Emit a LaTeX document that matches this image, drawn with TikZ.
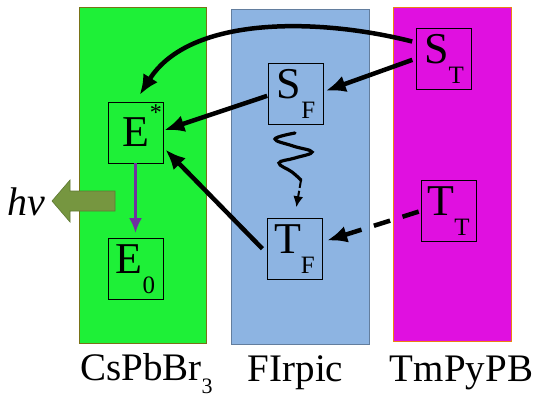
\documentclass[tikz,border=0pt]{standalone}
\usepackage{fontspec}
\setmainfont{Liberation Serif}
\newfontfamily\timesrm{Liberation Serif}
\usetikzlibrary{arrows.meta,calc}

\definecolor{perovgreen}{RGB}{30,240,55}
\definecolor{firpicblue}{RGB}{141,180,226}
\definecolor{tmpypbpink}{RGB}{224,16,224}
\definecolor{hvolive}{RGB}{118,150,64}
\definecolor{decaypurple}{RGB}{112,48,160}

\newcommand{\lsub}[1]{\raisebox{-20pt}{\timesrm\fontsize{25}{25}\selectfont #1}}

\begin{document}
\begin{tikzpicture}[x=1pt, y=-1pt, > = {Latex[length=20pt,width=17pt]},
        level/.style={draw, line width=0.8pt, minimum width=55pt, minimum height=61pt, inner sep=0pt, font=\timesrm\fontsize{44}{44}\selectfont},
        transfer/.style={->, line width=4.5pt},
        material/.style={anchor=base, font=\timesrm\fontsize{39}{39}\selectfont}]

            \useasboundingbox (0,0) rectangle (538,400);

            \filldraw[fill=perovgreen, draw=olive!80!black, line width=0.6pt] (79,7) rectangle (206,343);
            \filldraw[fill=firpicblue, draw=firpicblue!70!black, line width=0.6pt] (231,9) rectangle (369,344);
            \filldraw[fill=tmpypbpink, draw=orange!70!brown, line width=0.6pt] (393,7) rectangle (511,341);

            \node[level] (Es) at (135.5,132.5) {E\rlap{\smash{\raisebox{26pt}{\fontsize{24}{24}\selectfont\kern1pt *}}}};
            \node[level] (E0) at (135.5,269) {E\lsub{0}};
            \node[level] (SF) at (296,93.5) {S\lsub{F}};
            \node[level] (TF) at (294.5,249) {T\lsub{F}};
            \node[level] (ST) at (444,58.5) {S\lsub{T}};
            \node[level] (TT) at (448.5,211) {T\lsub{T}};

            \node[material] (csl) at (146.5,380) {CsPbBr\raisebox{-13pt}{\fontsize{22}{22}\selectfont 3}};
            \node[material] (firl) at (295.5,381) {FIrpic};
            \node[material] (tml) at (461.5,381) {TmPyPB};

            \filldraw[fill=hvolive, draw=hvolive!80!black, line width=0.6pt] (115,191) -- (70,191) -- (70,180) -- (52,201) -- (70,222) -- (70,211) -- (115,211) -- cycle;
            \node[anchor=base, font=\timesrm\fontsize{40}{40}\selectfont\itshape] (hv) at (26,215) {hν};

            \draw[->, decaypurple, line width=3pt, > = {Latex[length=15pt,width=13pt]}, shorten >=5pt] (Es) -- (E0);

            \draw[transfer, shorten <=4pt, shorten >=8pt] ($(ST.west)+(0,-16)$) .. controls (320,18) and (190,15) .. (Es.north);
            \draw[transfer, shorten <=4pt, shorten >=2pt] (ST.west) -- ($(SF.east)+(0,-2)$);
            \draw[transfer, shorten <=1pt, shorten >=1pt] ($(SF.west)+(0,2)$) -- ($(Es.east)+(0,-2)$);
            \draw[transfer, shorten <=6pt, shorten >=3pt] ($(TF.west)+(0,4)$) -- ($(Es.east)+(0,15)$);
            \draw[transfer, dash pattern=on 17pt off 13pt, shorten <=2pt, shorten >=5pt] (TT.west) -- ($(TF.east)+(0,-7)$);

            \coordinate (wavetop) at (295,133);
            \coordinate (wavebot) at (301,180);
            \draw[line width=3.2pt, line cap=round] plot[smooth, tension=0.7] coordinates {(wavetop) (275,139) (293,146) (312,152) (295,158) (279,163) (292,172) (wavebot)};
            \draw[->, line width=2pt, dash pattern=on 8pt off 3pt, > = {Latex[length=11pt,width=10pt]}, shorten >=11pt] (wavebot) -- (TF.north);
        \end{tikzpicture}
\end{document}
